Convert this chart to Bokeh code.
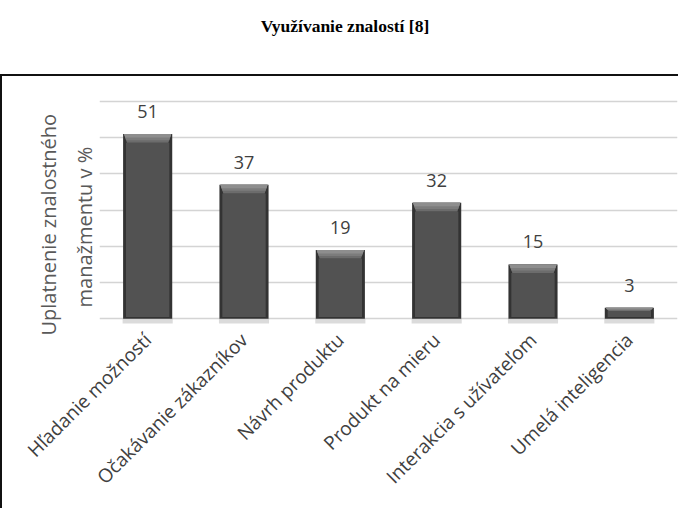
import math
from bokeh.plotting import figure
from bokeh.models import ColumnDataSource, LabelSet, Range1d, FixedTicker, Div, Title
from bokeh.core.properties import value
from bokeh.layouts import column
from bokeh.embed import file_html
from bokeh.resources import INLINE

# ---- data ----
categories = ["Hľadanie možností", "Očakávanie zákazníkov", "Návrh produktu",
              "Produkt na mieru", "Interakcia s užívateľom", "Umelá inteligencia"]
values = [51, 37, 19, 32, 15, 3]
y_ticks = [0, 10, 20, 30, 40, 50, 60]
title_text = "Využívanie znalostí [8]"
y_label_lines = ["Uplatnenie znalostného", "manažmentu v %"]

TXT = "#404040"
FONT = "Open Sans"

xs = list(range(len(categories)))

p = figure(width=678, height=434, output_backend="svg", toolbar_location=None,
           x_range=Range1d(-0.5, len(categories) - 0.5),
           y_range=Range1d(-1.6, 61.1),
           min_border_left=97, min_border_right=3, min_border_top=21, min_border_bottom=186,
           styles={"border-left": "2px solid #111", "border-top": "2px solid #111"})
p.outline_line_color = None
p.background_fill_color = "white"
p.border_fill_color = "white"

# y axis (hidden, grid only)
p.yaxis.visible = False
p.yaxis.ticker = FixedTicker(ticks=y_ticks)
p.ygrid.ticker = FixedTicker(ticks=y_ticks)
p.ygrid.grid_line_color = "#d4d4d4"
p.ygrid.grid_line_width = 1.6
p.xgrid.visible = False

# x axis with category labels
p.xaxis.ticker = FixedTicker(ticks=xs)
p.xaxis.major_label_overrides = {i: c for i, c in zip(xs, categories)}
p.xaxis.major_label_orientation = math.pi / 4
p.xaxis.axis_line_color = None
p.xaxis.major_tick_line_color = None
p.xaxis.minor_tick_line_color = None
p.xaxis.major_label_text_font = FONT
p.xaxis.major_label_text_font_size = "19px"
p.xaxis.major_label_text_color = TXT
p.xaxis.major_label_standoff = 6

# bar geometry derived from data
bw = 0.51
inner = 0.45
bevel = [min(2.4, v * 0.3) for v in values]
src = ColumnDataSource(dict(
    x=xs, top=values,
    sh_l=[x - 0.26 for x in xs], sh_r=[x + 0.26 for x in xs],
    in_top=[v - b for v, b in zip(values, bevel)],
    in_bot=[min(0.5, v * 0.15) for v in values],
    lbl=[str(v) for v in values],
))

# shadow under bars
p.quad(left="sh_l", right="sh_r", top=0, bottom=-1.3, source=src,
       fill_color="#bdbdbd", fill_alpha=0.55, line_color=None)
# outer bar (dark edge)
p.vbar(x="x", top="top", bottom=0, width=bw, source=src,
       fill_color="#333333", line_color=None)
# inner body
p.vbar(x="x", top="in_top", bottom="in_bot", width=inner, source=src,
       fill_color="#525252", line_color=None)
# top bevel (lighter trapezoids, stepped for a gradient look)
for frac, col in [(1.0, "#6c6c6c"), (0.7, "#7c7c7c"), (0.4, "#8e8e8e")]:
    bx = [[x - bw / 2 + 0.01, x + bw / 2 - 0.01,
           x + bw / 2 - 0.01 - 0.03 * frac, x - bw / 2 + 0.01 + 0.03 * frac] for x in xs]
    by = [[v, v, v - b * frac, v - b * frac] for v, b in zip(values, bevel)]
    p.patches(bx, by, fill_color=col, line_color=None)

# value labels
labels = LabelSet(x="x", y="top", text="lbl", source=src, y_offset=16,
                  text_align="center", text_baseline="alphabetic",
                  text_font=value(FONT), text_font_size=value("18px"), text_color=TXT)
p.add_layout(labels)

# y axis title (two lines) as left-side titles
t2 = Title(text=y_label_lines[1], align="left", offset=17, standoff=4,
           text_font=FONT, text_font_size="20px", text_font_style="normal",
           text_color="#595959")
t1 = Title(text=y_label_lines[0], align="left", offset=-11, standoff=9,
           text_font=FONT, text_font_size="20px", text_font_style="normal",
           text_color="#595959")
p.add_layout(t2, "left")
p.add_layout(t1, "left")

title = Div(text=f'<div style="text-align:center;font-family:\'Liberation Serif\';'
                 f'font-weight:bold;font-size:17.5px;padding-top:9px;width:680px;color:#000">'
                 f'{title_text}</div>',
            width=680, height=64)

layout = column(title, p, spacing=0)
open("out.html", "w").write(file_html(layout, INLINE))
